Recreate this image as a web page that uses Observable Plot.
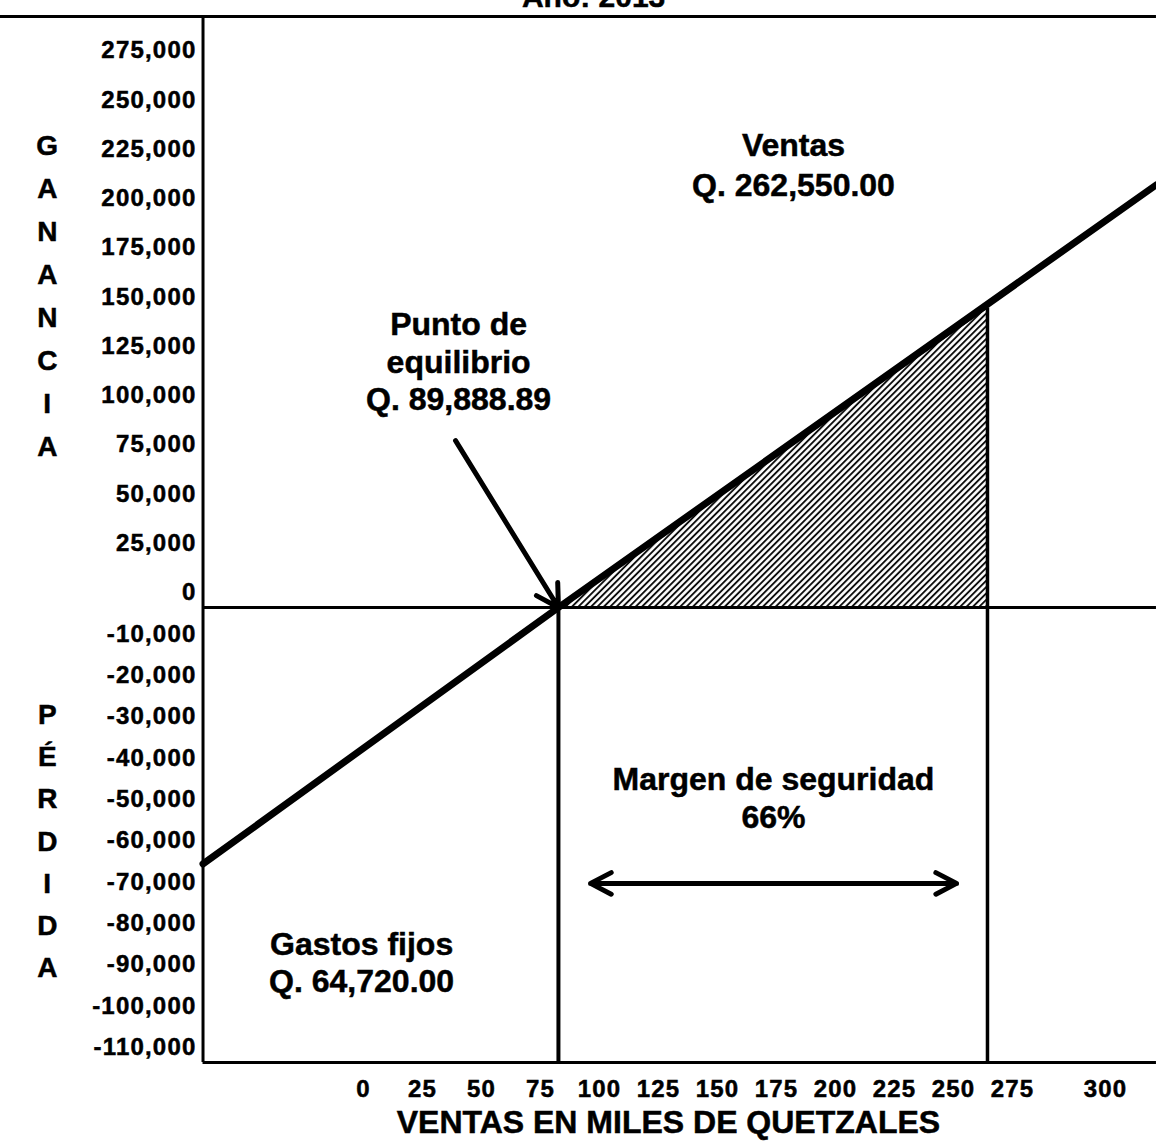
<!DOCTYPE html>
<html><head><meta charset="utf-8">
<script src="https://cdn.jsdelivr.net/npm/d3@7"></script>
<script src="https://cdn.jsdelivr.net/npm/@observablehq/plot@0.6"></script>
<style>
body{margin:0;background:#fff;}
#chart svg{display:block;}
#chart svg text{stroke:black;stroke-width:0.5px;}
g[aria-label="y-axis tick label"] text, g[aria-label="x-axis tick label"] text {letter-spacing:1.2px;}
</style></head><body><div id="chart"></div>
<script>
// ---- data (axis units as printed on the chart) ----
const xTicks = [0, 25, 50, 75, 100, 125, 150, 175, 200, 225, 250, 275, 300];
const yTicks = [275000, 250000, 225000, 200000, 175000, 150000, 125000, 100000, 75000, 50000, 25000, 0,
  -10000, -20000, -30000, -40000, -50000, -60000, -70000, -80000, -90000, -100000, -110000];
// profit (sales) line
const lineX = [-68, 82.6, 313.7];
const lineY = [-62000, 0, 214600];
// key points
const breakEvenX = 82.6;
const salesX = 264.4;
const salesY = 152000;
const frameLeft = -68, frameRight = 313.7, frameBottom = -110000, frameTop = 300000, topLineLeft = -154;
// arrows
const arrowBE = {x1: 39, y1: 84700, x2: 82.6, y2: 0};
const marginArrowY = -66700, marginArrowX1 = 96.2, marginArrowX2 = 251.3;
// labels
const title = "Año: 2013";
const xTitle = "VENTAS EN MILES DE QUETZALES";
const ganancia = "GANANCIA".split("");
const perdida = "PÉRDIDA".split("");
const notes = [
  {text: "Ventas\nQ. 262,550.00", x: 182.2, y: 225300, lh: 1.25},
  {text: "Punto de\nequilibrio\nQ. 89,888.89", x: 40.3, y: 125300, lh: 1.16},
  {text: "Margen de seguridad\n66%", x: 173.7, y: -45700, lh: 1.19},
  {text: "Gastos fijos\nQ. 64,720.00", x: -0.8, y: -85600, lh: 1.16}
];

const lineData = lineX.map((x, i) => ({x, y: lineY[i]}));
const areaData = [{x: breakEvenX, y: 0}, {x: salesX, y: salesY}];
const midX = (marginArrowX1 + marginArrowX2) / 2;
const fmt = d => d.toLocaleString("en-US");

const noteMarks = notes.map(n => Plot.text([n], {x: "x", y: "y", text: "text", lineHeight: n.lh, fontSize: 32, fontWeight: "bold", lineAnchor: "middle"}));

const chart = Plot.plot({
  width: 1156, height: 1142,
  marginLeft: 202, marginTop: 16, marginRight: 0, marginBottom: 80,
  style: {fontFamily: "'Liberation Sans', Arial, sans-serif", fontWeight: "bold", background: "white", color: "black"},
  x: {type: "linear", domain: [0, 275, 300], range: [363, 1012, 1105], label: null},
  y: {type: "linear", domain: [-110000, 0, 300000], range: [1062, 607, 16], label: null},
  marks: [
    Plot.areaY(areaData, {x: "x", y1: 0, y2: "y", fill: "url(#hatch)", stroke: "black", strokeWidth: 2}),
    Plot.ruleX([frameLeft], {y1: frameBottom, y2: frameTop, strokeWidth: 3}),
    Plot.ruleY([frameBottom], {x1: frameLeft, x2: frameRight, strokeWidth: 3}),
    Plot.ruleY([frameTop], {x1: topLineLeft, x2: frameRight, strokeWidth: 3}),
    Plot.ruleY([0], {x1: frameLeft, x2: frameRight, strokeWidth: 3}),
    Plot.ruleX([breakEvenX], {y1: frameBottom, y2: 0, strokeWidth: 4}),
    Plot.ruleX([salesX], {y1: frameBottom, y2: salesY, strokeWidth: 3.5}),
    Plot.line(lineData, {x: "x", y: "y", strokeWidth: 7, stroke: "black"}),
    Plot.arrow([arrowBE], {x1: "x1", y1: "y1", x2: "x2", y2: "y2", strokeWidth: 5, headLength: 7.5, headAngle: 60}),
    Plot.arrow([{a: midX, b: marginArrowX1}, {a: midX, b: marginArrowX2}], {x1: "a", x2: "b", y1: marginArrowY, y2: marginArrowY, strokeWidth: 5, headLength: 7, headAngle: 55}),
    ...noteMarks,
    Plot.text([ganancia.join("\n")], {x: -134, y: 160300, text: d => d, fontSize: 28, fontWeight: "bold", lineHeight: 43.1 / 28, lineAnchor: "middle"}),
    Plot.text([perdida.join("\n")], {x: -134, y: -55500, text: d => d, fontSize: 28, fontWeight: "bold", lineHeight: 42.2 / 28, lineAnchor: "middle"}),
    Plot.text([xTitle], {x: 129.2, y: -124500, text: d => d, fontSize: 32, fontWeight: "bold", lineAnchor: "middle"}),
    Plot.text([title], {x: 97.5, y: 309500, text: d => d, fontSize: 30, fontWeight: "bold", lineAnchor: "middle"}),
    Plot.axisY({ticks: yTicks, tickFormat: fmt, tickSize: 0, tickPadding: 6, dy: -15, fontSize: 24, fontWeight: "bold", label: null}),
    Plot.axisX({ticks: xTicks, tickFormat: d => String(d), tickSize: 0, tickPadding: 17, fontSize: 24, fontWeight: "bold", label: null})
  ]
});

// hatch pattern
const defs = d3.select(chart).insert("defs", ":first-child");
const pat = defs.append("pattern").attr("id", "hatch").attr("patternUnits", "userSpaceOnUse")
  .attr("width", 4.5).attr("height", 4.5).attr("patternTransform", "rotate(45)");
pat.append("rect").attr("width", 4.5).attr("height", 4.5).attr("fill", "white");
pat.append("line").attr("x1", 1).attr("y1", 0).attr("x2", 1).attr("y2", 4.5).attr("stroke", "black").attr("stroke-width", 1.8);

document.getElementById("chart").appendChild(chart);
</script></body></html>
